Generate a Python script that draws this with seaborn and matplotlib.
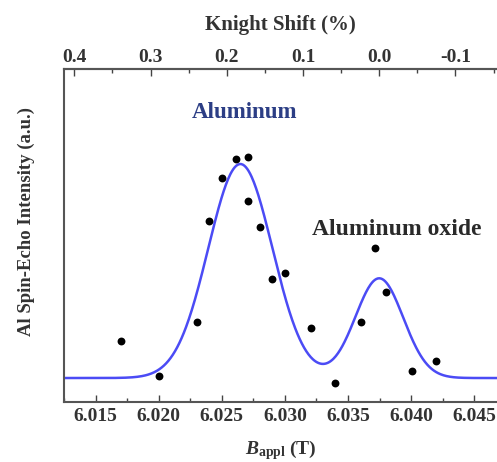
import numpy as np
import pandas as pd
import matplotlib
matplotlib.use("Agg")
import matplotlib.pyplot as plt
import seaborn as sns
from matplotlib.ticker import MultipleLocator, NullLocator

# ---- data ----
field_T = [6.0170, 6.0200, 6.0230, 6.0240, 6.0250, 6.0261, 6.0271, 6.0271, 6.0280,
           6.0290, 6.0300, 6.0321, 6.0340, 6.0360, 6.0371, 6.0380, 6.0401, 6.0420]
intensity = [0.174, 0.009, 0.263, 0.735, 0.933, 1.023, 1.034, 0.829, 0.707,
             0.461, 0.489, 0.232, -0.022, 0.263, 0.606, 0.403, 0.033, 0.081]

# fitted two-Gaussian model (centres, amplitudes, widths)
peak_centers = [6.02647, 6.03747]
peak_amps = [1.0, 0.466]
peak_sigmas = [0.00254, 0.00190]

top_ticks = [0.4, 0.3, 0.2, 0.1, 0.0, -0.1]
top_labels = ["0.4", "0.3", "0.2", "0.1", "0.0", "-0.1"]
B0 = 6.03747  # field at zero Knight shift

sns.set_style("white")
plt.rcParams["font.family"] = ["Liberation Serif", "DejaVu Serif"]
plt.rcParams["font.weight"] = "bold"
plt.rcParams["axes.labelweight"] = "bold"
plt.rcParams["mathtext.fontset"] = "custom"
plt.rcParams["mathtext.rm"] = "Liberation Serif:bold"
plt.rcParams["mathtext.it"] = "Liberation Serif:italic:bold"
plt.rcParams["mathtext.bf"] = "Liberation Serif:bold"

TXT = "#333333"
fig = plt.figure(figsize=(4.97, 4.62), dpi=100)
ax = fig.add_axes([64 / 497, 1 - 402 / 462, 1 - 64 / 497, (402 - 69) / 462])

xfit = np.linspace(6.0120, 6.0470, 600)
yfit = np.zeros_like(xfit)
for c, a, s in zip(peak_centers, peak_amps, peak_sigmas):
    yfit += a * np.exp(-(xfit - c) ** 2 / (2 * s ** 2))
fit_df = pd.DataFrame({"B": xfit, "I": yfit})
pts_df = pd.DataFrame({"B": field_T, "I": intensity})

sns.lineplot(data=fit_df, x="B", y="I", ax=ax, color="#4b4bf5", lw=1.8)
sns.scatterplot(data=pts_df, x="B", y="I", ax=ax, color="black", s=32,
                edgecolor="black", linewidth=0, zorder=3)

ax.set_xlim(6.0125, 6.0468)
ax.set_ylim(-0.112, 1.444)

ax.xaxis.set_major_locator(MultipleLocator(0.005))
ax.xaxis.set_minor_locator(MultipleLocator(0.0025))
ax.xaxis.set_major_formatter(matplotlib.ticker.FormatStrFormatter("%.3f"))
ax.yaxis.set_major_locator(NullLocator())
ax.tick_params(axis="x", which="major", direction="in", length=5, width=1,
               labelsize=14, pad=4, color="#444444", labelcolor=TXT, bottom=True)
ax.tick_params(axis="x", which="minor", direction="in", length=3, width=1,
               color="#444444", bottom=True)

for side in ["left", "bottom", "top"]:
    ax.spines[side].set_color("#555555")
    ax.spines[side].set_linewidth(1.5)
ax.spines["right"].set_visible(False)

ax.set_xlabel(r"$B_{\rm appl}$ (T)", fontsize=14, labelpad=10, color=TXT)
ax.set_ylabel("Al Spin-Echo Intensity (a.u.)", fontsize=13.5, color=TXT)
ax.yaxis.set_label_coords(-0.066, 0.5435)

sec = ax.secondary_xaxis("top", functions=(lambda b: (B0 - b) / B0 * 100,
                                           lambda k: B0 - k / 100 * B0))
sec.set_xticks(top_ticks)
sec.set_xticklabels(top_labels)
sec.xaxis.set_minor_locator(MultipleLocator(0.05))
sec.tick_params(axis="x", which="major", direction="in", length=5, width=1,
                labelsize=14, pad=2, color="#444444", labelcolor=TXT)
sec.tick_params(axis="x", which="minor", direction="in", length=3, width=1,
                color="#444444")
sec.spines["top"].set_color("#555555")
sec.spines["top"].set_linewidth(1.5)
sec.set_xlabel("Knight Shift (%)", fontsize=15, labelpad=14, color=TXT)

ax.text(6.02679, 1.243, "Aluminum", color="#2c3e85", fontsize=16.5,
        ha="center", va="center")
ax.text(6.03889, 0.696, "Aluminum oxide", color="#2a2a2a", fontsize=17,
        ha="center", va="center")

fig.savefig("out.png", dpi=100)
